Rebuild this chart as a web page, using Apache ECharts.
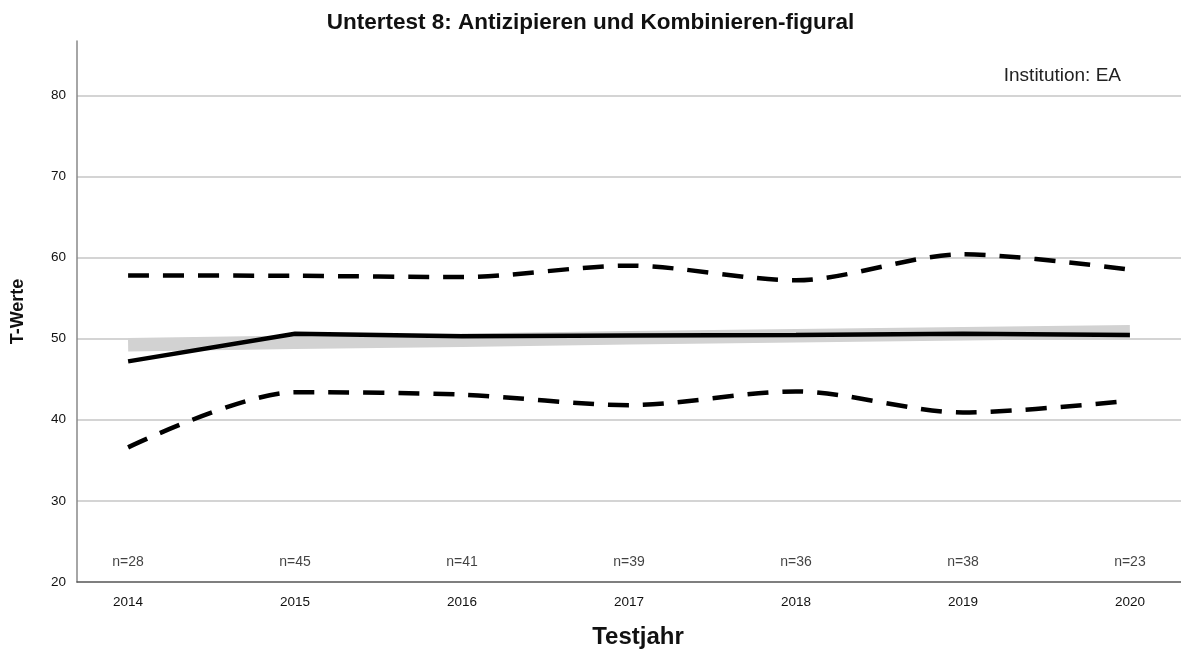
<!DOCTYPE html>
<html>
<head>
<meta charset="utf-8">
<title>Untertest 8</title>
<script src="https://cdn.jsdelivr.net/npm/echarts@6/dist/echarts.min.js"></script>
<style>
  html, body { margin: 0; padding: 0; background: #fff; }
  #main { width: 1181px; height: 654px; }
</style>
</head>
<body>
<div id="main"></div>
<script>
// Testjahre und Stichprobengroessen
var years = [2014, 2015, 2016, 2017, 2018, 2019, 2020];
var nLabels = ['n=28', 'n=45', 'n=41', 'n=39', 'n=36', 'n=38', 'n=23'];

// Mittelwert und obere / untere Grenze (gestrichelt)
var meanValues = [47.2, 50.6, 50.3, 50.4, 50.45, 50.6, 50.45];
var upperValues = [57.8, 57.75, 57.6, 59.0, 57.2, 60.4, 58.5];
var lowerValues = [36.6, 43.4, 43.1, 41.8, 43.5, 40.9, 42.35];

// grauer Trendbalken (Mitte)
var bandValues = [49.25, 49.55, 49.8, 50.1, 50.35, 50.6, 50.85];

// Y-Achse
var yTicks = [20, 30, 40, 50, 60, 70, 80];

function pairs(vals) {
  return years.map(function (y, i) { return [y, vals[i]]; });
}

var chart = echarts.init(document.getElementById('main'));

var font = 'Liberation Sans, Arial, sans-serif';

var option = {
  backgroundColor: '#fff',
  animation: false,
  textStyle: { fontFamily: font },
  title: [
    {
      text: 'Untertest 8: Antizipieren und Kombinieren-figural',
      left: 'center',
      top: 6,
      textStyle: { fontSize: 22.5, fontWeight: 'bold', color: '#111', fontFamily: font }
    },
    {
      text: 'Institution: EA',
      right: 55,
      top: 61,
      textStyle: { fontSize: 19, fontWeight: 'normal', color: '#222', fontFamily: font }
    }
  ],
  grid: { left: 77, right: 0, top: 41, bottom: 72 },
  xAxis: {
    type: 'value',
    min: 2013.694,
    max: 2020.306,
    name: 'Testjahr',
    nameLocation: 'middle',
    nameGap: 43,
    nameTextStyle: { fontSize: 24, fontWeight: 'bold', color: '#111', padding: [0, 0, 0, 18] },
    axisLine: { show: true, lineStyle: { color: '#555', width: 1.5 } },
    axisTick: { show: false },
    splitLine: { show: false },
    axisLabel: {
      customValues: years,
      formatter: function (v) { return String(v); },
      fontSize: 13.5,
      color: '#111',
      margin: 13
    }
  },
  yAxis: {
    type: 'value',
    min: 20,
    max: 86.7,
    interval: 10,
    name: 'T-Werte',
    nameLocation: 'middle',
    nameGap: 50,
    nameTextStyle: { fontSize: 18, fontWeight: 'bold', color: '#111' },
    axisLine: { show: true, lineStyle: { color: '#888', width: 1.5 } },
    axisTick: { show: false },
    axisLabel: {
      customValues: yTicks,
      fontSize: 13.5,
      color: '#111',
      margin: 11
    },
    splitLine: {
      show: true,
      showMinLine: false,
      showMaxLine: false,
      lineStyle: { color: '#c6c6c6', width: 1.5 }
    }
  },
  series: [
    {
      name: 'Band',
      type: 'line',
      data: pairs(bandValues),
      symbol: 'none',
      z: 1,
      lineStyle: { color: '#d2d2d2', width: 13.5, cap: 'butt' }
    },
    {
      name: 'Obere Grenze',
      type: 'line',
      data: pairs(upperValues),
      symbol: 'none',
      smooth: 0.3,
      z: 3,
      lineStyle: { color: '#000', width: 4.5, type: [21, 14], cap: 'butt' }
    },
    {
      name: 'Untere Grenze',
      type: 'line',
      data: pairs(lowerValues),
      symbol: 'none',
      smooth: 0.3,
      z: 3,
      lineStyle: { color: '#000', width: 4.5, type: [21, 14], cap: 'butt' }
    },
    {
      name: 'Mittelwert',
      type: 'line',
      data: pairs(meanValues),
      symbol: 'none',
      z: 4,
      lineStyle: { color: '#000', width: 4.5 }
    },
    {
      name: 'n',
      type: 'scatter',
      data: years.map(function (y, i) { return { value: [y, 22.4], label: { formatter: nLabels[i] } }; }),
      symbolSize: 0,
      silent: true,
      label: { show: true, position: 'inside', fontSize: 14, color: '#111' }
    }
  ]
};

chart.setOption(option);
</script>
</body>
</html>
